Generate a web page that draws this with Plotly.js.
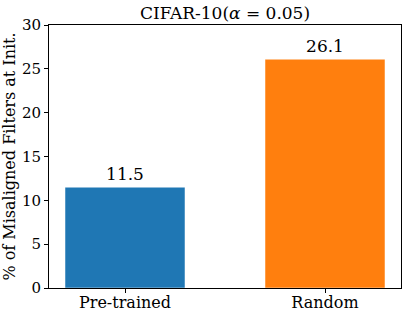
<!DOCTYPE html>
<html><head><meta charset="utf-8">
<script src="https://cdn.plot.ly/plotly-3.0.1.min.js"></script>
<style>html,body{margin:0;padding:0;background:#fff}#c{width:407px;height:318px}</style>
</head><body><div id="c"></div>
<script>
const categories = ["Pre-trained", "Random"];
const values = [11.5, 26.1];
const colors = ["#1f77b4", "#ff7f0e"];
const yTicks = [0, 5, 10, 15, 20, 25, 30];
const titleText = "CIFAR-10(<i>α</i> = 0.05)";
const yTitle = "% of Misaligned Filters at Init.";

const F = "DejaVu Serif";
Plotly.newPlot("c", [{
  type: "bar",
  x: [0, 1],
  y: values,
  width: 0.6,
  marker: {color: colors, line: {color: "rgba(255,255,255,0.5)", width: 1}},
  text: values.map(v => v.toFixed(1)),
  textposition: "outside",
  textfont: {family: F, size: 17, color: "#000"},
  cliponaxis: false,
  constraintext: "none",
  hoverinfo: "none"
}], {
  width: 407, height: 318,
  margin: {l: 49, r: 6, t: 25, b: 30},
  paper_bgcolor: "#fff", plot_bgcolor: "#fff",
  font: {family: F, color: "#000"},
  title: {text: titleText, font: {family: F, size: 17, color: "#000"}, x: 0.5, xref: "paper", xanchor: "center", y: 0.958, yanchor: "middle"},
  xaxis: {
    range: [-0.38, 1.38], tickvals: [0, 1], ticktext: categories,
    ticks: "outside", ticklen: 4, tickcolor: "#000", tickfont: {family: F, size: 16},
    ticklabelstandoff: -4,
    showline: true, linecolor: "#000", linewidth: 1, mirror: true, showgrid: false, zeroline: false
  },
  yaxis: {
    range: [0, 30], tickvals: yTicks, ticktext: yTicks.map(String),
    ticks: "outside", ticklen: 4, tickcolor: "#000", tickfont: {family: F, size: 15},
    showline: true, linecolor: "#000", linewidth: 1, mirror: true, showgrid: false, zeroline: false,
    title: {text: yTitle, font: {family: F, size: 16}, standoff: 6}
  },
  bargap: 0, showlegend: false
}, {staticPlot: true, displayModeBar: false});
</script></body></html>
